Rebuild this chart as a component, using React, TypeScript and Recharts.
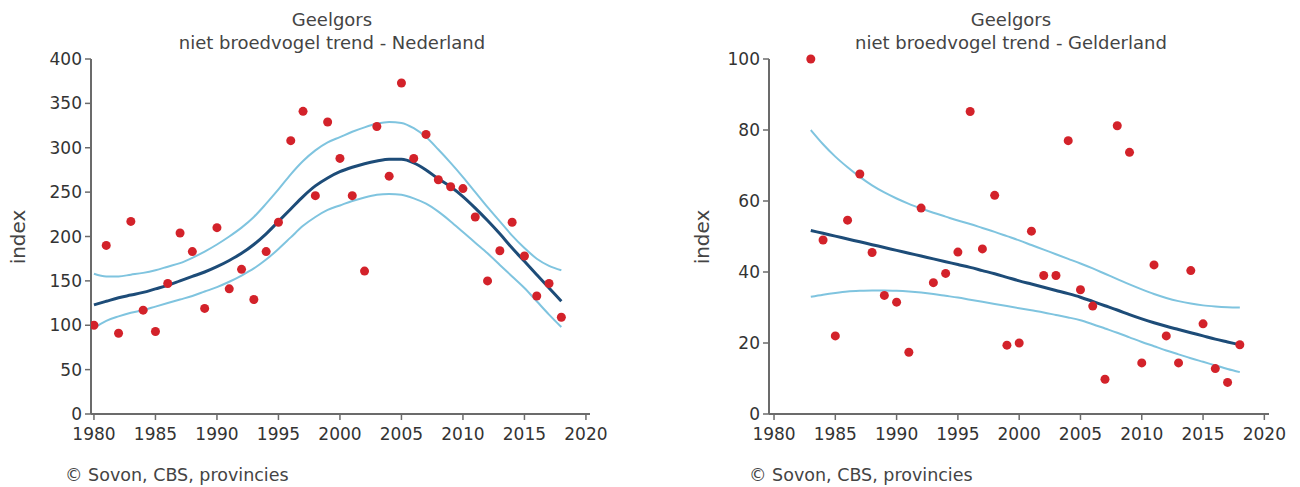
import { ComposedChart, Line, XAxis, YAxis } from 'recharts'

// Geelgors, niet broedvogel trend - Nederland
const nlYears = [1980, 1981, 1982, 1983, 1984, 1985, 1986, 1987, 1988, 1989, 1990, 1991, 1992, 1993, 1994, 1995, 1996, 1997, 1998, 1999, 2000, 2001, 2002, 2003, 2004, 2005, 2006, 2007, 2008, 2009, 2010, 2011, 2012, 2013, 2014, 2015, 2016, 2017, 2018]
const nlIndex = [100, 190, 91, 217, 117, 93, 147, 204, 183, 119, 210, 141, 163, 129, 183, 216, 308, 341, 246, 329, 288, 246, 161, 324, 268, 373, 288, 315, 264, 256, 254, 222, 150, 184, 216, 178, 133, 147, 109]
const nlTrend = [123, 127, 131, 134, 137, 141, 145, 150, 155, 160, 166, 173, 181, 191, 203, 217, 231, 245, 257, 266, 273, 278, 282, 285, 287, 287, 283, 275, 265, 256, 245, 232, 218, 203, 187, 172, 157, 142, 127]
const nlUpper = [158, 155, 155, 157, 159, 162, 166, 170, 176, 183, 191, 200, 210, 222, 237, 253, 270, 285, 297, 306, 312, 318, 323, 327, 329, 328, 322, 312, 298, 283, 267, 250, 233, 217, 201, 187, 175, 167, 162]
const nlLower = [97, 105, 110, 114, 117, 121, 125, 129, 133, 138, 143, 149, 156, 164, 174, 186, 199, 212, 222, 230, 235, 240, 244, 247, 248, 247, 243, 237, 228, 217, 205, 193, 181, 168, 155, 142, 127, 112, 98]

// Geelgors, niet broedvogel trend - Gelderland
const gldYears = [1983, 1984, 1985, 1986, 1987, 1988, 1989, 1990, 1991, 1992, 1993, 1994, 1995, 1996, 1997, 1998, 1999, 2000, 2001, 2002, 2003, 2004, 2005, 2006, 2007, 2008, 2009, 2010, 2011, 2012, 2013, 2014, 2015, 2016, 2017, 2018]
const gldIndex = [100, 49, 22, 54.6, 67.6, 45.5, 33.4, 31.5, 17.4, 58, 37, 39.6, 45.6, 85.2, 46.5, 61.6, 19.4, 20, 51.5, 39, 39, 77, 35, 30.4, 9.8, 81.2, 73.7, 14.4, 42, 22, 14.4, 40.4, 25.4, 12.8, 8.9, 19.5]
const gldTrend = [51.7, 50.9, 50.1, 49.3, 48.5, 47.7, 46.9, 46.1, 45.3, 44.5, 43.7, 42.9, 42.1, 41.3, 40.4, 39.5, 38.5, 37.5, 36.6, 35.7, 34.8, 33.9, 32.9, 31.7, 30.5, 29.3, 28.0, 26.8, 25.7, 24.7, 23.8, 22.9, 22.0, 21.1, 20.3, 19.5]
const gldUpper = [80, 76, 72.5, 69.5, 66.8, 64.4, 62.4, 60.7, 59.2, 57.9, 56.7, 55.6, 54.5, 53.5, 52.4, 51.3, 50.1, 48.9, 47.6, 46.3, 45.0, 43.7, 42.4, 41.0, 39.5, 38.0, 36.5, 35.1, 33.8, 32.7, 31.8, 31.1, 30.6, 30.3, 30.1, 30.0]
const gldLower = [33.0, 33.6, 34.1, 34.5, 34.7, 34.8, 34.8, 34.7, 34.5, 34.2, 33.8, 33.3, 32.8, 32.2, 31.6, 31.0, 30.4, 29.8, 29.2, 28.6, 27.9, 27.2, 26.4, 25.3, 24.1, 22.9, 21.6, 20.3, 19.1, 17.9, 16.8, 15.7, 14.7, 13.7, 12.7, 11.8]

const yearTicks = [1980, 1985, 1990, 1995, 2000, 2005, 2010, 2015, 2020]
const nlTicks = [0, 50, 100, 150, 200, 250, 300, 350, 400]
const gldTicks = [0, 20, 40, 60, 80, 100]

const FONT = '"DejaVu Sans", sans-serif'
const AXIS = '#6b6b6b'
const DOT = '#d3222a'
const TREND = '#1d4c78'
const BAND = '#7fc4df'

function buildRows(years: number[], index: number[], trend: number[], upper: number[], lower: number[]) {
  return years.map((year, i) => ({ year, index: index[i], trend: trend[i], upper: upper[i], lower: lower[i] }))
}

interface PanelProps {
  left: number
  title: string
  rows: Array<{ year: number; index: number; trend: number; upper: number; lower: number }>
  yTicks: number[]
  yMax: number
  xDomain: [number, number]
  margin: { top: number; right: number; bottom: number; left: number }
  titleX: number
  labelX: number
}

function Panel({ left, title, rows, yTicks, yMax, xDomain, margin, titleX, labelX }: PanelProps) {
  const tick = { fontSize: 17, fill: '#333', fontFamily: FONT }
  return (
    <div style={{ position: 'absolute', left, top: 0, width: 650, height: 487 }}>
      <div style={{ position: 'absolute', left: titleX - 250, top: 8, width: 500, textAlign: 'center', fontFamily: FONT, fontSize: 18, lineHeight: '23px', color: '#444' }}>
        Geelgors
        <br />
        {title}
      </div>
      <div style={{ position: 'absolute', left: labelX - 40, top: 225, width: 80, textAlign: 'center', fontFamily: FONT, fontSize: 20, lineHeight: '24px', color: '#444', transform: 'rotate(-90deg)' }}>
        index
      </div>
      <div style={{ position: 'absolute', left: labelX + 47, top: 465, fontFamily: FONT, fontSize: 17.5, color: '#444', whiteSpace: 'nowrap' }}>
        © Sovon, CBS, provincies
      </div>
      <ComposedChart width={650} height={487} data={rows} margin={margin}>
        <XAxis
          dataKey="year"
          type="number"
          domain={xDomain}
          ticks={yearTicks}
          allowDataOverflow
          height={40}
          tick={tick}
          tickSize={6}
          tickMargin={8}
          stroke={AXIS}
          axisLine={{ stroke: AXIS, strokeWidth: 2 }}
          tickLine={{ stroke: AXIS, strokeWidth: 1.5 }}
        />
        <XAxis xAxisId="top" orientation="top" dataKey="year" type="number" domain={xDomain} allowDataOverflow height={0} tick={false} tickLine={false} axisLine={{ stroke: '#8a8a8a', strokeWidth: 2 }} />
        <YAxis
          type="number"
          domain={[0, yMax]}
          ticks={yTicks}
          width={60}
          tick={tick}
          tickSize={6}
          tickMargin={3}
          stroke={AXIS}
          axisLine={{ stroke: AXIS, strokeWidth: 2 }}
          tickLine={{ stroke: AXIS, strokeWidth: 1.5 }}
        />
        <YAxis yAxisId="right" orientation="right" type="number" domain={[0, yMax]} width={0} tick={false} tickLine={false} axisLine={{ stroke: '#8a8a8a', strokeWidth: 2 }} />
        <Line dataKey="upper" type="monotone" stroke={BAND} strokeWidth={2} dot={false} activeDot={false} isAnimationActive={false} />
        <Line dataKey="lower" type="monotone" stroke={BAND} strokeWidth={2} dot={false} activeDot={false} isAnimationActive={false} />
        <Line dataKey="trend" type="monotone" stroke={TREND} strokeWidth={3} dot={false} activeDot={false} isAnimationActive={false} />
        <Line dataKey="index" stroke="none" dot={{ r: 4.5, fill: DOT, stroke: 'none' }} activeDot={false} isAnimationActive={false} />
      </ComposedChart>
    </div>
  )
}

export default function App() {
  const nlRows = buildRows(nlYears, nlIndex, nlTrend, nlUpper, nlLower)
  const gldRows = buildRows(gldYears, gldIndex, gldTrend, gldUpper, gldLower)
  return (
    <div style={{ position: 'absolute', left: 0, top: 0, width: 1300, height: 487, background: '#fff' }}>
      <Panel
        left={0}
        title="niet broedvogel trend - Nederland"
        rows={nlRows}
        yTicks={nlTicks}
        yMax={400}
        xDomain={[1979.76, 2020.33]}
        margin={{ top: 59, right: 60, bottom: 33, left: 31 }}
        titleX={332}
        labelX={18}
      />
      <Panel
        left={650}
        title="niet broedvogel trend - Gelderland"
        rows={gldRows}
        yTicks={gldTicks}
        yMax={100}
        xDomain={[1979.59, 2020.38]}
        margin={{ top: 59, right: 31, bottom: 33, left: 59 }}
        titleX={361}
        labelX={52}
      />
    </div>
  )
}
